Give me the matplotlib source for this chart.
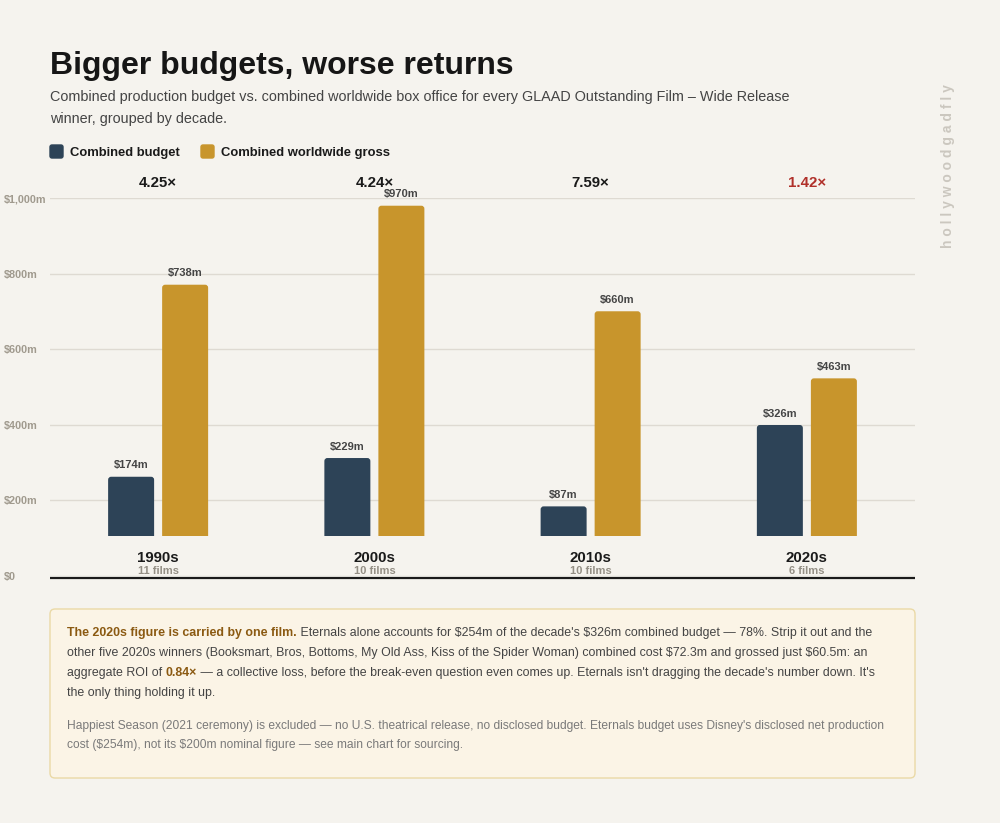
import matplotlib
matplotlib.use('Agg')
import matplotlib.pyplot as plt
from matplotlib.patches import FancyBboxPatch, Rectangle
from matplotlib.transforms import blended_transform_factory
import numpy as np

plt.rcParams['font.family'] = ['Liberation Sans', 'DejaVu Sans']
plt.rcParams['text.parse_math'] = False

# ---------------- data ----------------
decades = ['1990s', '2000s', '2010s', '2020s']
film_counts = ['11 films', '10 films', '10 films', '6 films']
budget = [174, 229, 87, 326]          # $m combined production budget
gross = [738, 970, 660, 463]          # $m combined worldwide gross
ratio_labels = ['4.25×', '4.24×', '7.59×', '1.42×']
ytick_vals = [0, 200, 400, 600, 800, 1000]
ytick_labels = ['$0', '$200m', '$400m', '$600m', '$800m', '$1,000m']

# ---------------- style ----------------
BG = '#f5f3ee'
NAVY = '#2d4357'
GOLD = '#c8952c'
RED = '#b0302a'
DARK = '#1a1a1a'
W, H = 1000, 823

def fx(px):
    return px / W

def fy(py):
    return 1 - py / H

fig = plt.figure(figsize=(W / 100, H / 100), dpi=100)
fig.patch.set_facecolor(BG)

# ---------------- grid axis ----------------
rect = [fx(50), fy(576), fx(915) - fx(50), fy(198) - fy(576)]
ax = fig.add_axes(rect)
ax.set_facecolor('none')
ax.set_xlim(-0.5, 3.5)
ax.set_ylim(0, 1000)
ax.set_yticks(ytick_vals, ytick_labels)
ax.set_xticks([])
ax.yaxis.grid(True, color='#dedad2', lw=1)
ax.set_axisbelow(True)
ax.tick_params(axis='y', length=0, pad=33.1, labelsize=7.8, labelcolor='#a09a8e')
for lbl in ax.get_yticklabels():
    lbl.set_ha('left')
    lbl.set_fontweight('bold')
for s in ax.spines.values():
    s.set_visible(False)
# baseline rule drawn just under the zero line
base = blended_transform_factory(ax.transAxes, fig.transFigure)
ax.plot([0, 1], [fy(577.8), fy(577.8)], transform=base, color=DARK, lw=1.6,
        solid_capstyle='butt', clip_on=False, zorder=5)

# ---------------- bar axis ----------------
scale = 0.3405  # px per $m
ax2 = fig.add_axes(rect)
ax2.set_facecolor('none')
ax2.axis('off')
ax2.set_xlim(-0.5, 3.5)
ax2.set_ylim(-(576 - 536) / scale, (536 - 198) / scale)

x = np.arange(len(decades))
bw = 0.2127
off = 0.1249
b1 = ax2.bar(x - off, budget, width=bw, color=NAVY)
b2 = ax2.bar(x + off, gross, width=bw, color=GOLD)

# round the top corners of the bars (bottoms stay square)
fig.canvas.draw()
px_x = ax2.transData.transform((1, 0))[0] - ax2.transData.transform((0, 0))[0]
px_y = ax2.transData.transform((0, 1))[1] - ax2.transData.transform((0, 0))[1]
radius_px = 3.0
for cont in (b1, b2):
    for r in cont.patches:
        x0, y0 = r.get_x(), r.get_y()
        w, h = r.get_width(), r.get_height()
        ext = 20 / px_y
        fb = FancyBboxPatch((x0, y0 - ext), w, h + ext,
                            boxstyle=f'round,pad=0,rounding_size={radius_px / px_x}',
                            mutation_aspect=px_x / px_y,
                            facecolor=r.get_facecolor(), edgecolor='none',
                            transform=ax2.transData)
        ax2.add_patch(fb)
        clip = Rectangle((x0 - w, y0), 3 * w, h * 2, transform=ax2.transData)
        fb.set_clip_path(clip)
        r.set_visible(False)

for xi, v in zip(x - off, budget):
    ax2.annotate(f'${v}m', (xi, v), xytext=(0, 6), textcoords='offset points',
                 ha='center', va='baseline', fontsize=8, weight='bold', color='#454545')
for xi, v in zip(x + off, gross):
    ax2.annotate(f'${v}m', (xi, v), xytext=(0, 6), textcoords='offset points',
                 ha='center', va='baseline', fontsize=8, weight='bold', color='#454545')

trans = blended_transform_factory(ax2.transData, fig.transFigure)
for i, (d, n, r) in enumerate(zip(decades, film_counts, ratio_labels)):
    col = RED if i == len(decades) - 1 else DARK
    ax2.text(i, fy(186.7), r, transform=trans, ha='center', va='baseline',
             fontsize=10.8, weight='bold', color=col)
    ax2.text(i, fy(562.3), d, transform=trans, ha='center', va='baseline',
             fontsize=10.8, weight='bold', color=DARK)
    ax2.text(i, fy(574.5), n, transform=trans, ha='center', va='baseline',
             fontsize=8, weight='bold', color='#948f85')

# ---------------- header ----------------
fig.text(fx(50), fy(74), 'Bigger budgets, worse returns', fontsize=23.04,
         weight='bold', color='#161616', va='baseline', ha='left')
fig.text(fx(50), fy(101), 'Combined production budget vs. combined worldwide box office for every GLAAD Outstanding Film – Wide Release',
         fontsize=10.4, color='#444444', va='baseline', ha='left')
fig.text(fx(50), fy(123.3), 'winner, grouped by decade.',
         fontsize=10.4, color='#444444', va='baseline', ha='left')

# legend
for px, label, col in [(50, 'Combined budget', NAVY), (201, 'Combined worldwide gross', GOLD)]:
    fig.patches.append(FancyBboxPatch((fx(px), fy(158)), fx(13), 13 / H,
                                      boxstyle='round,pad=0,rounding_size=0.002',
                                      mutation_aspect=W / H,
                                      transform=fig.transFigure, color=col))
    fig.text(fx(px + 20), fy(156), label, fontsize=9.36, weight='bold',
             color=DARK, va='baseline', ha='left')

# watermark
fig.text(fx(948), fy(166), ' '.join('hollywoodgadfly'), rotation=90, fontsize=10,
         weight='bold', color='#cbc7bf', ha='center', va='center')

# ---------------- note box ----------------
fig.patches.append(FancyBboxPatch((fx(50), fy(778)), fx(865), 169 / H,
                                  boxstyle='round,pad=0,rounding_size=0.005',
                                  mutation_aspect=W / H, transform=fig.transFigure,
                                  facecolor='#fbf4e6', edgecolor='#ead9a6', lw=1))

renderer = fig.canvas.get_renderer()
BROWN = '#8b5a12'
TXT = '#444444'

def rich_line(x_px, y_px, pieces, size):
    xp = x_px
    for s, wt, col in pieces:
        t = fig.text(fx(xp), fy(y_px), s, fontsize=size, weight=wt, color=col,
                     va='baseline', ha='left')
        xp += t.get_window_extent(renderer).width

fs = 8.95
rich_line(67, 636, [('The 2020s figure is carried by one film.', 'bold', BROWN),
                    (" Eternals alone accounts for $254m of the decade's $326m combined budget — 78%. Strip it out and the", 'normal', TXT)], fs)
rich_line(67, 656, [('other five 2020s winners (Booksmart, Bros, Bottoms, My Old Ass, Kiss of the Spider Woman) combined cost $72.3m and grossed just $60.5m: an', 'normal', TXT)], fs)
rich_line(67, 676, [('aggregate ROI of ', 'normal', TXT), ('0.84×', 'bold', BROWN),
                    (" — a collective loss, before the break-even question even comes up. Eternals isn't dragging the decade's number down. It's", 'normal', TXT)], fs)
rich_line(67, 696, [('the only thing holding it up.', 'normal', TXT)], fs)

NOTE = '#7a7a7a'
rich_line(67, 729.3, [("Happiest Season (2021 ceremony) is excluded — no U.S. theatrical release, no disclosed budget. Eternals budget uses Disney's disclosed net production", 'normal', NOTE)], 8.64)
rich_line(67, 748.3, [('cost ($254m), not its $200m nominal figure — see main chart for sourcing.', 'normal', NOTE)], 8.64)

fig.savefig('out.png', dpi=100, facecolor=BG)
